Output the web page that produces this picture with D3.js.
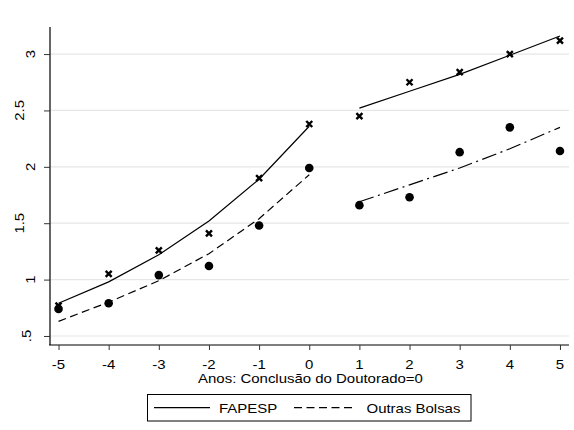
<!DOCTYPE html>
<html>
<head>
<meta charset="utf-8">
<script src="https://cdn.jsdelivr.net/npm/d3@7"></script>
<style>
  html, body { margin: 0; padding: 0; background: #fff; }
  svg text { font-family: "Liberation Sans", Arial, sans-serif; fill: #000; }
</style>
</head>
<body>
<svg id="chart" width="574" height="430"></svg>
<script>
// ---- Data ----
const years = [-5, -4, -3, -2, -1, 0, 1, 2, 3, 4, 5];
const fapespObs = [0.77, 1.05, 1.26, 1.41, 1.90, 2.38, 2.45, 2.75, 2.84, 3.00, 3.12];
const outrasObs = [0.74, 0.79, 1.04, 1.12, 1.48, 1.99, 1.66, 1.73, 2.13, 2.35, 2.14];
const yearsPre = [-5, -4, -3, -2, -1, 0];
const yearsPost = [1, 2, 3, 4, 5];
const fapespFitPre = [0.79, 0.98, 1.22, 1.52, 1.89, 2.36];
const fapespFitPost = [2.52, 2.67, 2.82, 2.99, 3.16];
const outrasFitPre = [0.63, 0.80, 0.99, 1.23, 1.54, 1.93];
const outrasFitPost = [1.69, 1.84, 1.99, 2.16, 2.35];
const yTicks = [0.5, 1, 1.5, 2, 2.5, 3];
const yTickLabels = [".5", "1", "1.5", "2", "2.5", "3"];
const xTicks = years;
const xTitle = "Anos: Conclusão do Doutorado=0";
const legendLabels = ["FAPESP", "Outras Bolsas"];

// ---- Layout ----
const svg = d3.select("#chart");
const pL = 50, pR = 569, pT = 27, pB = 345;
const x = d3.scaleLinear().domain([-5.17, 5.18]).range([pL, pR]);
const y = d3.scaleLinear().domain([0.42, 3.24]).range([pB, pT]);
const FS = 13, STRETCH = 1.15;

function stretch(sel) {
  sel.each(function () {
    const len = this.getComputedTextLength();
    d3.select(this).attr("textLength", len * STRETCH).attr("lengthAdjust", "spacingAndGlyphs");
  });
  return sel;
}

// gridlines
svg.append("g").selectAll("line").data(yTicks).join("line")
  .attr("x1", pL).attr("x2", pR)
  .attr("y1", d => y(d)).attr("y2", d => y(d))
  .attr("stroke", "#e6e6e6").attr("stroke-width", 1.2);

// lines
const line = (xs, ys) => d3.line().x((d, i) => x(xs[i])).y(d => y(d))(ys);
const lines = svg.append("g").attr("fill", "none").attr("stroke", "#000").attr("stroke-width", 1.2);
lines.append("path").attr("d", line(yearsPre, fapespFitPre));
lines.append("path").attr("d", line(yearsPost, fapespFitPost));
lines.append("path").attr("d", line(yearsPre, outrasFitPre)).attr("stroke-dasharray", "8,4.5");
lines.append("path").attr("d", line(yearsPost, outrasFitPost)).attr("stroke-dasharray", "15,4.5,2,4.5");

// markers
svg.append("g").selectAll("path").data(fapespObs).join("path")
  .attr("d", (d, i) => {
    const cx = x(years[i]), cy = y(d), s = 3;
    return `M${cx - s},${cy - s}L${cx + s},${cy + s}M${cx - s},${cy + s}L${cx + s},${cy - s}`;
  })
  .attr("stroke", "#000").attr("stroke-width", 2.4).attr("fill", "none");
svg.append("g").selectAll("circle").data(outrasObs).join("circle")
  .attr("cx", (d, i) => x(years[i])).attr("cy", d => y(d)).attr("r", 4.3)
  .attr("fill", "#000");

// axes
const yAxis = svg.append("g").attr("transform", `translate(${pL},0)`)
  .call(d3.axisLeft(y).tickValues(yTicks).tickSize(6).tickFormat(""));
yAxis.select(".domain").attr("d", `M0,${pT}V${pB}`).attr("stroke-width", 1.2);
yAxis.selectAll(".tick line").attr("stroke", "#333");

const xAxis = svg.append("g").attr("transform", `translate(0,${pB})`)
  .call(d3.axisBottom(x).tickValues(xTicks).tickSize(5).tickFormat(""));
xAxis.select(".domain").attr("d", `M${pL - 1},0H${pR}`).attr("stroke-width", 1.2);
xAxis.selectAll(".tick line").attr("stroke", "#333");

// x tick labels
stretch(svg.append("g").selectAll("text").data(xTicks).join("text")
  .attr("x", d => x(d)).attr("y", 368.5)
  .attr("text-anchor", "middle").attr("font-size", FS)
  .text(d => d));

// y tick labels (rotated)
svg.append("g").selectAll("text").data(yTicks).join("text")
  .attr("font-size", FS).attr("text-anchor", "middle")
  .text((d, i) => yTickLabels[i])
  .each(function (d) {
    const len = this.getComputedTextLength() * STRETCH;
    d3.select(this).attr("textLength", len).attr("lengthAdjust", "spacingAndGlyphs");
    const cx = 36.8 - 0.82 * len;
    const ax = cx + 4.7;
    d3.select(this).attr("transform", `translate(${ax},${y(d)}) rotate(-90)`);
  });

// x title
stretch(svg.append("text").attr("x", 310.5).attr("y", 382.5)
  .attr("text-anchor", "middle").attr("font-size", FS).text(xTitle));

// legend
const lg = svg.append("g");
lg.append("rect").attr("x", 147.5).attr("y", 394.5).attr("width", 323.5).attr("height", 26.5)
  .attr("fill", "#fff").attr("stroke", "#000").attr("stroke-width", 1);
lg.append("line").attr("x1", 154).attr("x2", 210).attr("y1", 407.7).attr("y2", 407.7)
  .attr("stroke", "#000").attr("stroke-width", 1.2);
lg.append("line").attr("x1", 294).attr("x2", 355).attr("y1", 407.7).attr("y2", 407.7)
  .attr("stroke", "#000").attr("stroke-width", 1.2).attr("stroke-dasharray", "8,4.5");
stretch(lg.append("text").attr("x", 219).attr("y", 413).attr("font-size", FS).text(legendLabels[0]));
stretch(lg.append("text").attr("x", 366.5).attr("y", 413).attr("font-size", FS).text(legendLabels[1]));
</script>
</body>
</html>
